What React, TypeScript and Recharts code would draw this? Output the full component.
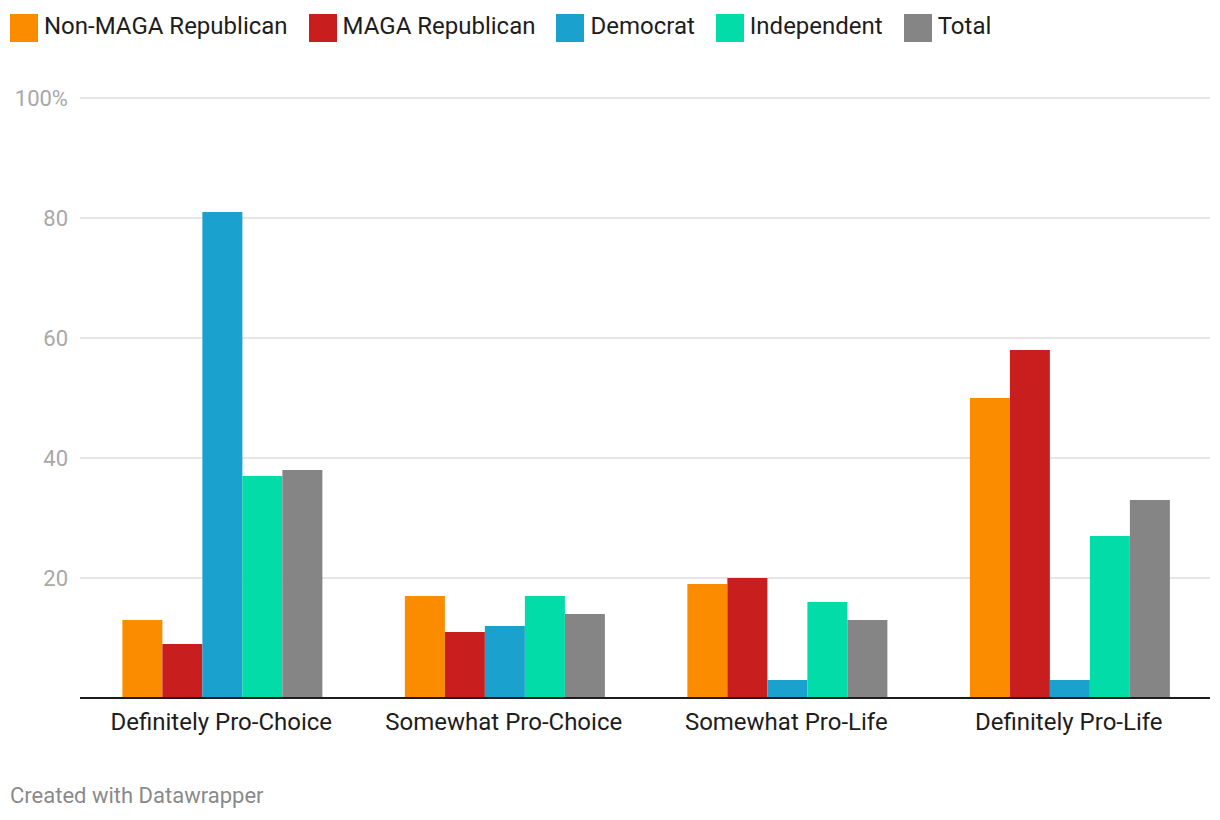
import { BarChart, Bar, XAxis, YAxis, CartesianGrid } from "recharts";

const categories = [
  "Definitely Pro-Choice",
  "Somewhat Pro-Choice",
  "Somewhat Pro-Life",
  "Definitely Pro-Life",
];

const nonMagaRepublican = [13, 17, 19, 50];
const magaRepublican = [9, 11, 20, 58];
const democrat = [81, 12, 3, 3];
const independent = [37, 17, 16, 27];
const total = [38, 14, 13, 33];

const yTicks = [20, 40, 60, 80, 100];

const series = [
  { key: "nonMaga", name: "Non-MAGA Republican", color: "#FB8C00", values: nonMagaRepublican },
  { key: "maga", name: "MAGA Republican", color: "#C81E1E", values: magaRepublican },
  { key: "dem", name: "Democrat", color: "#1AA1CD", values: democrat },
  { key: "ind", name: "Independent", color: "#01DCA8", values: independent },
  { key: "total", name: "Total", color: "#858585", values: total },
];

const data = categories.map((c, i) => {
  const row: Record<string, string | number> = { category: c };
  series.forEach((s) => {
    row[s.key] = s.values[i];
  });
  return row;
});

const font = "Roboto, 'Noto Sans', sans-serif";

const ChartLegend = () => (
  <div
    style={{
      position: "absolute",
      top: 14,
      left: 10,
      display: "flex",
      alignItems: "flex-start",
      fontFamily: font,
    }}
  >
    {series.map((s) => (
      <div key={s.key} style={{ display: "flex", alignItems: "flex-start", marginRight: 21 }}>
        <div style={{ width: 28, height: 28, background: s.color, marginRight: 6 }} />
        <span style={{ fontSize: 24, lineHeight: "28px", marginTop: -2, color: "#1d1d1d", whiteSpace: "nowrap" }}>
          {s.name}
        </span>
      </div>
    ))}
  </div>
);

const YTick = (props: any) => {
  const { x, y, payload } = props;
  return (
    <text x={x} y={y} dy={8} textAnchor="end" fill="#a8a8a8" fontSize={22} fontFamily={font}>
      {payload.value === 100 ? "100%" : payload.value}
    </text>
  );
};

const XTick = (props: any) => {
  const { x, y, payload } = props;
  return (
    <text x={x} y={y} dy={24} textAnchor="middle" fill="#1d1d1d" fontSize={24} fontFamily={font}>
      {payload.value}
    </text>
  );
};

export default function App() {
  return (
    <div style={{ position: "absolute", left: 0, top: 0, width: 1220, height: 820, background: "#fff" }}>
      <ChartLegend />
      <BarChart
        width={1220}
        height={820}
        data={data}
        margin={{ top: 98, right: 10, bottom: 92, left: 0 }}
        barCategoryGap="15%"
        barGap={0}
      >
        <CartesianGrid vertical={false} stroke="#e6e6e6" strokeWidth={2} />
        <XAxis
          dataKey="category"
          height={30}
          axisLine={{ stroke: "#1d1d1d", strokeWidth: 2 }}
          tickLine={false}
          tick={<XTick />}
          interval={0}
        />
        <YAxis
          width={80}
          domain={[0, 100]}
          ticks={yTicks}
          axisLine={false}
          tickLine={false}
          tickMargin={6}
          tick={<YTick />}
        />
        {series.map((s) => (
          <Bar key={s.key} dataKey={s.key} name={s.name} fill={s.color} isAnimationActive={false} />
        ))}
      </BarChart>
      <div
        style={{
          position: "absolute",
          left: 10,
          top: 783,
          fontFamily: font,
          fontSize: 22,
          color: "#8a8a8a",
        }}
      >
        Created with Datawrapper
      </div>
    </div>
  );
}
